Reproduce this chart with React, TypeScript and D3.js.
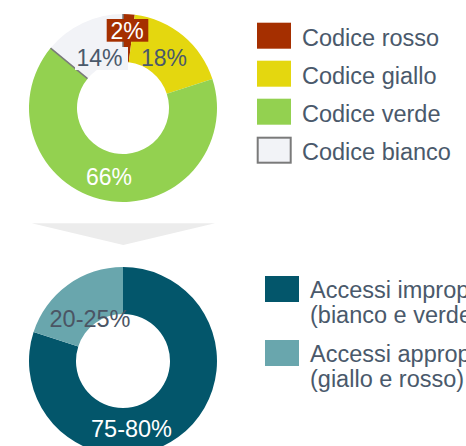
import React from "react";
import * as d3 from "d3";

const triageCategories = ["Codice rosso", "Codice giallo", "Codice verde", "Codice bianco"];
const triageValues = [2, 18, 66, 14];
const triageLabels = ["2%", "18%", "66%", "14%"];
const triageColors = ["#a52f00", "#e4d70f", "#93d150", "#f2f3f7"];

const accessCategories = ["Accessi impropri", "Accessi appropriati"];
const accessSubLabels = ["(bianco e verde)", "(giallo e rosso)"];
const accessValues = [80, 20];
const accessLabels = ["75-80%", "20-25%"];
const accessColors = ["#03566b", "#69a6ad"];

const TEXT = "#4a596b";
const FONT = "'Liberation Sans', Arial, Helvetica, sans-serif";

export default function App() {
  const W = 466, H = 446;
  const cx = 123, r0 = 46, r1 = 94;
  const cy1 = 108, cy2 = 361;

  const pie = d3.pie<number>().sort(null).value((d) => d);
  const arc = d3.arc<d3.PieArcDatum<number>>().innerRadius(r0).outerRadius(r1);
  const arc2 = d3.arc<d3.PieArcDatum<number>>().innerRadius(47).outerRadius(r1);
  const topArcs = pie(triageValues);
  const botArcs = pie(accessValues);

  const radial = (a: number, r: number) => [r * Math.sin(a), -r * Math.cos(a)];

  // label placements (relative to donut centre)
  const topLabelPos: [number, number][] = [[4, -77.5], [41, -49.7], [-14, 68.7], [-23.5, -49.7]];
  const topLabelColor = ["#ffffff", TEXT, "#ffffff", TEXT];
  const botLabelPos: [number, number][] = [[8.5, 67.7], [-33, -42.3]];
  const botLabelColor = ["#ffffff", "#4b5564"];

  const legendTop = d3.scaleBand<string>().domain(triageCategories).range([22.7, 22.7 + 38 * 4]);
  const legendBot = d3.scaleBand<string>().domain(accessCategories).range([276, 276 + 64 * 2]);

  const bianco = topArcs[3];

  return (
    <svg width={W} height={H} style={{ position: "absolute", left: 0, top: 0, background: "#fff" }} fontFamily={FONT}>
      <g transform={`translate(${cx},${cy1})`}>
        {topArcs.map((a, i) => (
          <path key={i} d={arc(a) || ""} fill={triageColors[i]} />
        ))}
        {[bianco.startAngle, bianco.endAngle].map((ang, i) => {
          const [x0, y0] = radial(ang, r0);
          const [x1, y1] = radial(ang, r1);
          return <line key={i} x1={x0} y1={y0} x2={x1} y2={y1} stroke="#7a7a7a" strokeWidth={1.5} />;
        })}
        {/* label backgrounds */}
        <rect x={-48} y={-61} width={53} height={23} fill={triageColors[3]} />
        <rect x={-16.3} y={-89} width={41.6} height={22.7} fill={triageColors[0]} />
        {topArcs.map((a, i) => (
          <text key={i} x={topLabelPos[i][0]} y={topLabelPos[i][1]} dy="0.35em" textAnchor="middle"
            fontSize={23} fill={topLabelColor[i]}>{triageLabels[i]}</text>
        ))}
      </g>

      <path d={d3.line()([[31.7, 223.3], [215, 223.3], [123.3, 245], [31.7, 223.3]]) || ""} fill="#ececec" />

      <g transform={`translate(${cx},${cy2})`}>
        {botArcs.map((a, i) => (
          <path key={i} d={arc2(a) || ""} fill={accessColors[i]} />
        ))}
        {botArcs.map((a, i) => (
          <text key={i} x={botLabelPos[i][0]} y={botLabelPos[i][1]} dy="0.35em" textAnchor="middle"
            fontSize={23.5} fill={botLabelColor[i]}>{accessLabels[i]}</text>
        ))}
      </g>

      {triageCategories.map((c, i) => {
        const y = legendTop(c)!;
        return (
          <g key={c}>
            <rect x={i === 3 ? 257.7 : 257} y={i === 3 ? y + 1 : y} width={i === 3 ? 33 : 34} height={i === 3 ? 25 : 26}
              fill={triageColors[i]} stroke={i === 3 ? "#7a7a7a" : "none"} strokeWidth={2} />
            <text x={302} y={y + 23.3} fontSize={23.5} fill={TEXT}>{c}</text>
          </g>
        );
      })}

      {accessCategories.map((c, i) => {
        const y = legendBot(c)!;
        return (
          <g key={c}>
            <rect x={265} y={y} width={34} height={26} fill={accessColors[i]} />
            <text x={310} y={y + 21.7} fontSize={23.5} fill={TEXT}>{c}</text>
            <text x={310} y={y + 47.3} fontSize={23.5} fill={TEXT}>{accessSubLabels[i]}</text>
          </g>
        );
      })}
    </svg>
  );
}
